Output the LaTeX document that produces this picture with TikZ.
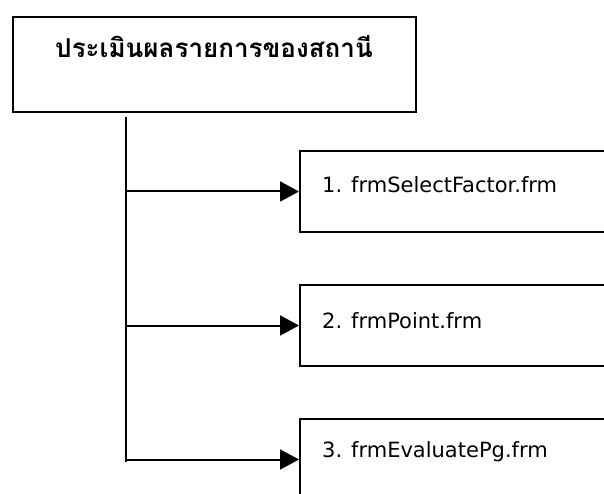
\documentclass[tikz,border=0pt]{standalone}
\usepackage{fontspec}
\setmainfont{DejaVu Sans}
\newfontfamily\thaifont[Script=Thai]{Loma}
\usetikzlibrary{arrows.meta}

\tikzset{
  menubox/.style={draw, line width=2pt, anchor=north west, inner sep=0pt,
    minimum width=403pt, minimum height=95pt},
  formbox/.style={draw, line width=2pt, anchor=north west, inner sep=0pt,
    minimum width=330pt, minimum height=81pt},
  formname/.style={anchor=base west, inner sep=0pt, font=\fontsize{21}{25}\selectfont},
  link/.style={line width=2pt, -{Triangle[length=19pt,width=20pt]}},
}

\begin{document}
\begin{tikzpicture}[x=1pt, y=-1pt]
  \useasboundingbox (0,0) rectangle (604,494);
  \clip (0,0) rectangle (604,494);

  % Main menu
  \node[menubox] (menu) at (12,16) {};
  \node[anchor=base, inner sep=0pt, font=\thaifont\bfseries\fontsize{26}{30}\selectfont]
    (title) at (214,58) {ประเมินผลรายการของสถานี};

  % Trunk line
  \coordinate (trunktop) at (125.5,117);
  \coordinate (trunkend) at (125.5,462);
  \draw[line width=2pt] (trunktop) -- (trunkend);

  % Forms
  \node[formbox] (form1) at (299,150) {};
  \node[formbox] (form2) at (299,284) {};
  \node[formbox] (form3) at (299,418) {};
  \node[formname] (name1) at (322,193) {1. frmSelectFactor.frm};
  \node[formname] (name2) at (322,328) {2. frmPoint.frm};
  \node[formname] (name3) at (322,457) {3. frmEvaluatePg.frm};

  % Links
  \draw[link] (trunktop |- form1.west) -- (form1.west);
  \draw[link] (trunktop |- form2.west) -- (form2.west);
  \draw[link] (trunktop |- form3.west) -- (form3.west);
\end{tikzpicture}
\end{document}
